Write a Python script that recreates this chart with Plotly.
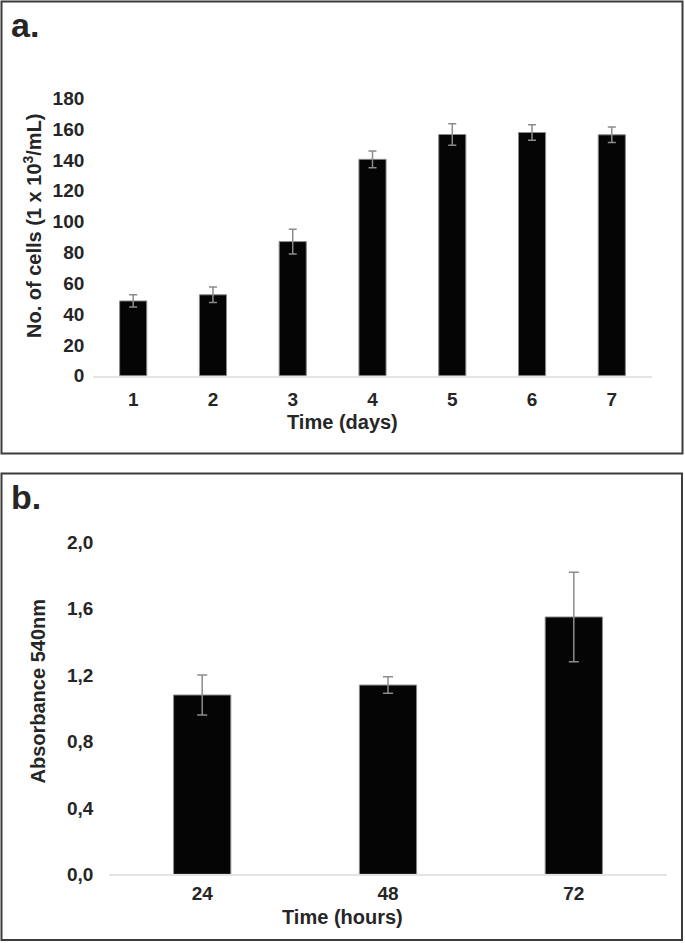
import plotly.graph_objects as go

# ---------------- data ----------------
days = ["1", "2", "3", "4", "5", "6", "7"]
cells = [48.5, 52.5, 87, 140.4, 156.5, 157.8, 156.3]
cells_err = [4.0, 5.0, 8.0, 5.4, 7.0, 5.0, 5.0]
cells_ticks = [0, 20, 40, 60, 80, 100, 120, 140, 160, 180]

hours = ["24", "48", "72"]
absorb = [1.08, 1.14, 1.55]
absorb_err = [0.12, 0.05, 0.27]
absorb_tickvals = [0.0, 0.4, 0.8, 1.2, 1.6, 2.0]
absorb_ticktext = ["0,0", "0,4", "0,8", "1,2", "1,6", "2,0"]

# ---------------- layout helpers ----------------
W, H = 685, 943


def px(x):
    return x / W


def py(y):
    return 1 - y / H


FONT = "Liberation Sans, Arial, sans-serif"
TXT = "#262626"
BAR_FILL = "#050505"
BAR_EDGE = "#8a8a8a"
ERR = "#8c8c8c"
BASE = "#e3e3e3"
BORDER = "#3c3c3c"

fig = go.Figure()

fig.add_trace(go.Bar(
    x=days, y=cells, xaxis="x", yaxis="y", width=0.34,
    marker=dict(color=BAR_FILL, line=dict(color=BAR_EDGE, width=1)),
    error_y=dict(type="data", array=cells_err, color=ERR, thickness=1.5, width=4),
    showlegend=False, hoverinfo="skip",
))

fig.add_trace(go.Bar(
    x=hours, y=absorb, xaxis="x2", yaxis="y2", width=0.308,
    marker=dict(color=BAR_FILL, line=dict(color=BAR_EDGE, width=1)),
    error_y=dict(type="data", array=absorb_err, color=ERR, thickness=1.5, width=5),
    showlegend=False, hoverinfo="skip",
))

tickfont = dict(family=FONT, size=19, color=TXT, weight="bold")

fig.update_layout(
    width=W, height=H,
    margin=dict(l=0, r=0, t=0, b=0, autoexpand=False),
    paper_bgcolor="white", plot_bgcolor="white",
    xaxis=dict(domain=[px(93.3), px(651.7)], anchor="y", type="category",
               showline=True, linecolor=BASE, linewidth=2, showgrid=False,
               ticks="", tickfont=tickfont, ticklabelstandoff=5, zeroline=False,
               automargin=False),
    yaxis=dict(domain=[py(375.7), py(98.3)], anchor="x", range=[0, 180],
               tickvals=cells_ticks, showgrid=False, zeroline=False,
               showline=False, ticks="", tickfont=tickfont, ticklabelstandoff=8,
               automargin=False),
    xaxis2=dict(domain=[px(109.3), px(666.7)], anchor="y2", type="category",
                showline=True, linecolor=BASE, linewidth=2, showgrid=False,
                ticks="", tickfont=tickfont, ticklabelstandoff=1, zeroline=False,
                automargin=False),
    yaxis2=dict(domain=[py(874.3), py(542.3)], anchor="x2", range=[0, 2.0],
                tickvals=absorb_tickvals, ticktext=absorb_ticktext,
                showgrid=False, zeroline=False, showline=False, ticks="",
                tickfont=tickfont, ticklabelstandoff=15, automargin=False),
)

# panel borders
fig.add_shape(type="rect", xref="paper", yref="paper",
              x0=px(1.5), x1=px(682.5), y0=py(453.5), y1=py(1.5),
              line=dict(color=BORDER, width=2), fillcolor="rgba(0,0,0,0)")
fig.add_shape(type="rect", xref="paper", yref="paper",
              x0=px(1.5), x1=px(682), y0=py(940), y1=py(473.5),
              line=dict(color=BORDER, width=2), fillcolor="rgba(0,0,0,0)")

ann = []
ann.append(dict(text="a.", x=px(9), y=py(25), xanchor="left", yanchor="middle",
                font=dict(family=FONT, size=34, color=TXT, weight="bold")))
ann.append(dict(text="b.", x=px(9), y=py(497), xanchor="left", yanchor="middle",
                font=dict(family=FONT, size=34, color=TXT, weight="bold")))
ann.append(dict(text="Time (days)", x=px(342.5), y=py(421.7), xanchor="center",
                yanchor="middle", font=dict(family=FONT, size=20, color=TXT, weight="bold")))
ann.append(dict(text="Time (hours)", x=px(342.5), y=py(916.7), xanchor="center",
                yanchor="middle", font=dict(family=FONT, size=20, color=TXT, weight="bold")))
ann.append(dict(text="No. of cells (1 x 10<sup>3</sup>/mL)", x=px(32.5), y=py(225.5),
                xanchor="center", yanchor="middle", textangle=-90,
                font=dict(family=FONT, size=20, color=TXT, weight="bold")))
ann.append(dict(text="Absorbance 540nm", x=px(37), y=py(691.5),
                xanchor="center", yanchor="middle", textangle=-90,
                font=dict(family=FONT, size=20, color=TXT, weight="bold")))
for a in ann:
    a.update(xref="paper", yref="paper", showarrow=False)
fig.update_layout(annotations=ann)

post = (
    "document.documentElement.style.margin='0';"
    "document.body.style.margin='0';"
    "document.body.style.padding='0';"
    "document.body.style.overflow='hidden';"
)

fig.write_html(
    "out.html",
    config={"displayModeBar": False},
    post_script=post,
)
